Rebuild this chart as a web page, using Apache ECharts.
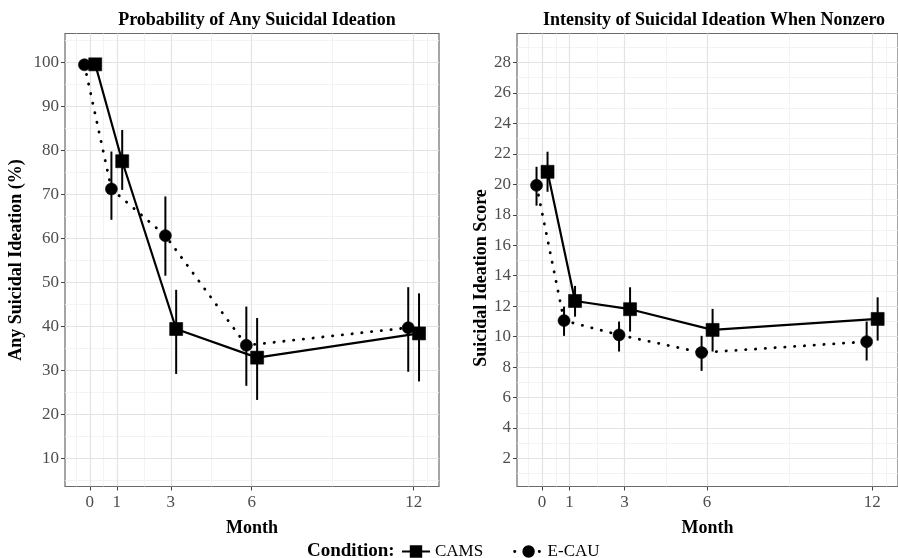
<!DOCTYPE html>
<html><head><meta charset="utf-8">
<script src="https://cdn.jsdelivr.net/npm/echarts@6/dist/echarts.min.js"></script>
<style>html,body{margin:0;padding:0;background:#fff}#c{width:898px;height:558px}</style>
</head><body><div id="c"></div>
<script>
// ---- data ----
const months = [0, 1, 3, 6, 12];
const xTicks = [0, 1, 3, 6, 12];
const xMinor = [-0.5, 0.5, 2, 4.5, 9, 12.5];
const yTicksLeft = [10, 20, 30, 40, 50, 60, 70, 80, 90, 100];
const yMinorLeft = [5, 15, 25, 35, 45, 55, 65, 75, 85, 95, 105];
const yTicksRight = [2, 4, 6, 8, 10, 12, 14, 16, 18, 20, 22, 24, 26, 28];
const yMinorRight = [1, 3, 5, 7, 9, 11, 13, 15, 17, 19, 21, 23, 25, 27, 29];

// Probability of any suicidal ideation (%)
const probCAMS = [99.5, 77.5, 39.4, 32.9, 38.4];
const probCAMSLo = [null, 71.0, 29.2, 23.3, 27.5];
const probCAMSHi = [null, 84.6, 48.3, 41.9, 47.5];
const probECAU = [99.4, 71.2, 60.6, 35.7, 39.7];
const probECAULo = [null, 64.2, 51.5, 26.5, 29.7];
const probECAUHi = [null, 79.7, 69.5, 44.5, 48.9];

// Intensity of suicidal ideation when nonzero
const intCAMS = [20.82, 12.34, 11.80, 10.44, 11.16];
const intCAMSLo = [19.51, 11.31, 10.33, 9.02, 9.74];
const intCAMSHi = [22.14, 13.33, 13.24, 11.82, 12.58];
const intECAU = [19.93, 11.05, 10.11, 8.95, 9.67];
const intECAULo = [18.6, 10.05, 9.02, 7.75, 8.43];
const intECAUHi = [21.15, 11.97, 10.99, 10.05, 10.99];

// ---- build ----
const DODGE = 0.2;
const FONT = '"Liberation Serif", "Times New Roman", serif';
const chart = echarts.init(document.getElementById('c'), null, {renderer: 'canvas'});

function pts(vals, off) { return months.map((m, i) => [m + off, vals[i]]); }
function bars(lo, hi, off) { return months.map((m, i) => [m + off, lo[i], hi[i]]); }

function errSeries(data, gi) {
  return {
    type: 'custom', xAxisIndex: gi, yAxisIndex: gi, z: 2, silent: true,
    data: data.filter(d => d[1] != null),
    encode: {x: 0, y: [1, 2]},
    renderItem: function (params, api) {
      const a = api.coord([api.value(0), api.value(1)]);
      const b = api.coord([api.value(0), api.value(2)]);
      return {type: 'line', shape: {x1: a[0], y1: a[1], x2: b[0], y2: b[1]},
        style: {stroke: '#000', lineWidth: 2, fill: null}};
    }
  };
}

function gridSeries(gi, yMaj, yMin) {
  const major = {color: '#e3e3e3', width: 1.2, type: 'solid'};
  const minor = {color: '#f0f0f0', width: 0.8, type: 'solid'};
  const data = [];
  yMin.forEach(v => data.push({yAxis: v, lineStyle: minor}));
  xMinor.forEach(v => data.push({xAxis: v, lineStyle: minor}));
  yMaj.forEach(v => data.push({yAxis: v, lineStyle: major}));
  xTicks.forEach(v => data.push({xAxis: v, lineStyle: major}));
  return {
    type: 'line', xAxisIndex: gi, yAxisIndex: gi, data: [], z: 0, silent: true,
    markLine: {silent: true, z: 0, zlevel: 0, symbol: ['none', 'none'], label: {show: false},
      animation: false, data: data}
  };
}

function lineSeries(name, data, gi, dotted) {
  return {
    name: name, type: 'line', xAxisIndex: gi, yAxisIndex: gi, z: 4,
    data: data, symbol: dotted ? 'circle' : 'rect', symbolSize: dotted ? 12 : 13,
    itemStyle: {color: '#000', borderWidth: 0.6, borderColor: '#000'},
    lineStyle: dotted ? {color: '#000', width: 2.8, type: [0.3, 9.5], cap: 'round'}
                      : {color: '#000', width: 2.2, type: 'solid'},
    emphasis: {disabled: true}, animation: false
  };
}

function xAxis(gi, min, max) {
  return {
    type: 'value', gridIndex: gi, min: min, max: max,
    name: 'Month', nameLocation: 'middle', nameGap: 33,
    nameTextStyle: {fontFamily: FONT, fontWeight: 'bold', fontSize: 18, color: '#000'},
    axisLine: {show: false, onZero: false},
    splitLine: {show: false},
    axisTick: {show: true, length: 4, lineStyle: {color: '#444'}, customValues: xTicks},
    axisLabel: {fontFamily: FONT, fontSize: 17, color: '#4d4d4d', margin: 8, customValues: xTicks}
  };
}
function yAxis(gi, min, max, ticks, name, gap, pad) {
  return {
    type: 'value', gridIndex: gi, min: min, max: max,
    name: name, nameLocation: 'middle', nameGap: gap, nameRotate: 90,
    nameTextStyle: {fontFamily: FONT, fontWeight: 'bold', fontSize: 18, color: '#000', padding: pad},
    axisLine: {show: false, onZero: false},
    splitLine: {show: false},
    axisTick: {show: true, length: 4, lineStyle: {color: '#444'}, customValues: ticks},
    axisLabel: {fontFamily: FONT, fontSize: 17, color: '#4d4d4d', margin: 6, customValues: ticks}
  };
}

const option = {
  backgroundColor: '#fff',
  animation: false,
  title: [
    {text: 'Probability of Any Suicidal Ideation', left: 252, top: 6, textAlign: 'center',
     textStyle: {fontFamily: FONT, fontWeight: 'bold', fontSize: 18, color: '#000'}},
    {text: 'Intensity of Suicidal Ideation When Nonzero', left: 709, top: 6, textAlign: 'center',
     textStyle: {fontFamily: FONT, fontWeight: 'bold', fontSize: 18, color: '#000'}},
    {text: 'Condition:', left: 302, top: 537,
     textStyle: {fontFamily: FONT, fontWeight: 'bold', fontSize: 19, color: '#000'}}
  ],
  legend: {
    left: 396, top: 538, itemWidth: 28, itemHeight: 13, itemGap: 30,
    data: ['CAMS', {name: 'E-CAU', lineStyle: {type: [0.3, 12], width: 2.8, cap: 'round'}}],
    textStyle: {fontFamily: FONT, fontSize: 17, color: '#000'}
  },
  grid: [
    {left: 65, top: 33.5, width: 374, height: 453, show: true, borderColor: '#6a6a6a', borderWidth: 1.2, backgroundColor: 'transparent'},
    {left: 517, top: 33.5, width: 386.5, height: 453, show: true, borderColor: '#6a6a6a', borderWidth: 1.2, backgroundColor: 'transparent'}
  ],
  xAxis: [xAxis(0, -0.92, 12.94), xAxis(1, -0.91, 12.94)],
  yAxis: [
    yAxis(0, 3.64, 106.5, yTicksLeft, 'Any Suicidal Ideation (%)', 40, 0),
    yAxis(1, 0.16, 29.9, yTicksRight, 'Suicidal Ideation Score', 27, [0, 36, 0, 0])
  ],
  series: [
    gridSeries(0, yTicksLeft, yMinorLeft),
    gridSeries(1, yTicksRight, yMinorRight),
    errSeries(bars(probCAMSLo, probCAMSHi, DODGE), 0),
    errSeries(bars(probECAULo, probECAUHi, -DODGE), 0),
    errSeries(bars(intCAMSLo, intCAMSHi, DODGE), 1),
    errSeries(bars(intECAULo, intECAUHi, -DODGE), 1),
    lineSeries('CAMS', pts(probCAMS, DODGE), 0, false),
    lineSeries('E-CAU', pts(probECAU, -DODGE), 0, true),
    lineSeries('CAMS', pts(intCAMS, DODGE), 1, false),
    lineSeries('E-CAU', pts(intECAU, -DODGE), 1, true)
  ]
};
chart.setOption(option);
</script></body></html>
